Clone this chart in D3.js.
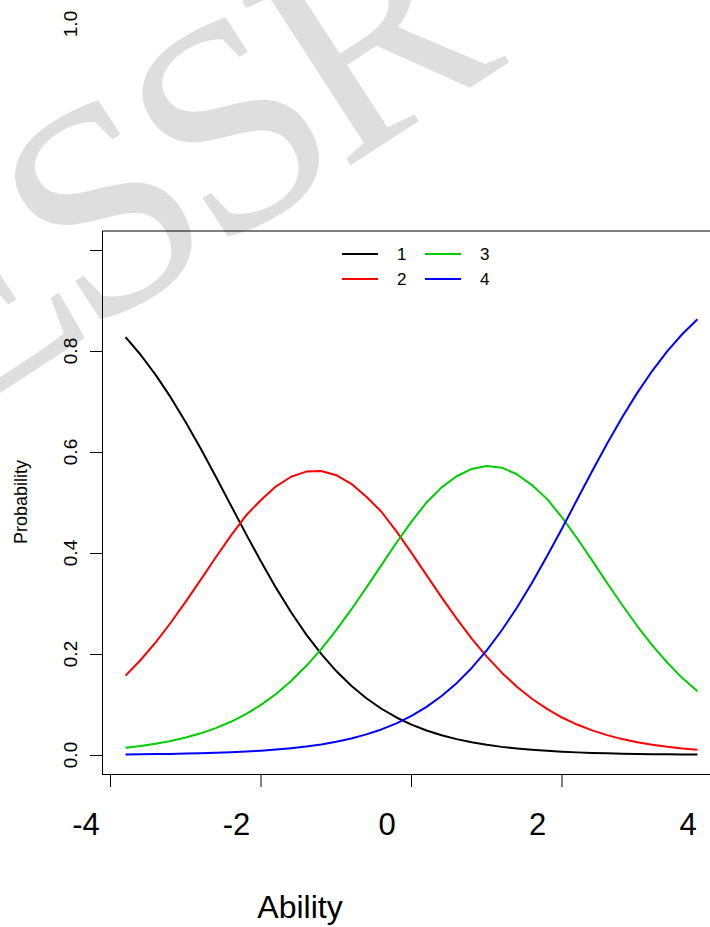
<!DOCTYPE html>
<html>
<head>
<meta charset="utf-8">
<script src="https://cdn.jsdelivr.net/npm/d3@7"></script>
<style>
  html, body { margin: 0; padding: 0; background: #fff; }
  svg { display: block; }
</style>
</head>
<body>
<svg id="chart" width="710" height="927"></svg>
<script>
// ---- data ----
const ability = [-3.8,-3.6,-3.4,-3.2,-3.0,-2.8,-2.6,-2.4,-2.2,-2.0,-1.8,-1.6,-1.4,-1.2,-1.0,-0.8,-0.6,-0.4,-0.2,0.0,0.2,0.4,0.6,0.8,1.0,1.2,1.4,1.6,1.8,2.0,2.2,2.4,2.6,2.8,3.0,3.2,3.4,3.6,3.8];
const cat1 = [0.8275,0.7926,0.7527,0.7081,0.6590,0.6063,0.5509,0.4943,0.4379,0.3830,0.3309,0.2826,0.2389,0.2001,0.1662,0.1370,0.1123,0.0916,0.0743,0.0601,0.0485,0.0390,0.0314,0.0252,0.0201,0.0161,0.0129,0.0103,0.0082,0.0066,0.0052,0.0042,0.0033,0.0027,0.0021,0.0017,0.0013,0.0011,0.0008];
const cat2 = [0.1571,0.1881,0.2232,0.2619,0.3036,0.3473,0.3915,0.4344,0.4742,0.5050,0.5320,0.5510,0.5612,0.5622,0.5540,0.5370,0.5115,0.4817,0.4427,0.4002,0.3561,0.3122,0.2700,0.2306,0.1949,0.1630,0.1352,0.1114,0.0912,0.0742,0.0603,0.0487,0.0393,0.0315,0.0254,0.0203,0.0163,0.0130,0.0105];
const cat3 = [0.0143,0.0179,0.0223,0.0278,0.0346,0.0429,0.0532,0.0658,0.0810,0.0992,0.1209,0.1465,0.1761,0.2097,0.2472,0.2882,0.3315,0.3761,0.4203,0.4622,0.5001,0.5300,0.5520,0.5665,0.5722,0.5690,0.5560,0.5345,0.5072,0.4705,0.4292,0.3853,0.3407,0.2970,0.2554,0.2172,0.1827,0.1523,0.1260];
const cat4 = [0.0011,0.0014,0.0018,0.0022,0.0028,0.0035,0.0044,0.0055,0.0069,0.0086,0.0108,0.0135,0.0168,0.0210,0.0263,0.0327,0.0408,0.0506,0.0627,0.0775,0.0953,0.1168,0.1423,0.1724,0.2073,0.2470,0.2916,0.3407,0.3934,0.4487,0.5053,0.5618,0.6167,0.6688,0.7171,0.7608,0.7997,0.8336,0.8627];
const seriesNames = ["1","2","3","4"];
const seriesColors = ["#000000","#ff0000","#00cd00","#0000ff"];
const xTicks = [-4,-2,0,2,4];
const xTickLabels = ["-4","-2","0","2","4"];
const yTicks = [0,0.2,0.4,0.6,0.8,1.0];
const yTickLabels = ["0.0","0.2","0.4","0.6","0.8","1.0"];
const xTitle = "Ability";
const yTitle = "Probability";
const watermark = "ESSR";

// ---- layout ----
const svg = d3.select("#chart");
const font = "Liberation Sans, Arial, Helvetica, sans-serif";
const box = {left: 102, top: 231, bottom: 774, right: 740};
const x = d3.scaleLinear().domain([-4, 4]).range([110.5, 712.5]);
const y = d3.scaleLinear().domain([0, 1]).range([755, 250]);

// watermark
svg.append("text")
  .attr("transform", "translate(-54,428) rotate(-33)")
  .attr("font-family", "Liberation Serif, Times New Roman, serif")
  .attr("font-size", 300)
  .attr("letter-spacing", -15)
  .attr("fill", "#dedede")
  .text(watermark);

// plot frame
svg.append("line").attr("x1", box.left).attr("x2", box.right).attr("y1", box.top).attr("y2", box.top)
  .attr("stroke", "#000").attr("stroke-width", 1);
svg.append("line").attr("x1", box.left + 0.5).attr("x2", box.left + 0.5).attr("y1", box.top).attr("y2", box.bottom + 0.5)
  .attr("stroke", "#000").attr("stroke-width", 1);
svg.append("line").attr("x1", box.left).attr("x2", box.right).attr("y1", box.bottom + 0.5).attr("y2", box.bottom + 0.5)
  .attr("stroke", "#000").attr("stroke-width", 1);

// x axis ticks
const xg = svg.append("g");
xg.selectAll("line.t").data(xTicks).join("line")
  .attr("x1", d => x(d)).attr("x2", d => x(d))
  .attr("y1", box.bottom).attr("y2", box.bottom + 13)
  .attr("stroke", "#000").attr("stroke-width", 1);
xg.selectAll("text").data(xTicks).join("text")
  .attr("x", d => x(d) - 24.5).attr("y", 835)
  .attr("text-anchor", "middle")
  .attr("font-family", font).attr("font-size", 31)
  .attr("fill", "#000")
  .text((d, i) => xTickLabels[i]);

// y axis ticks
const yg = svg.append("g");
yg.selectAll("line.t").data(yTicks).join("line")
  .attr("x1", 90).attr("x2", box.left)
  .attr("y1", d => y(d) + 0.5).attr("y2", d => y(d) + 0.5)
  .attr("stroke", "#000").attr("stroke-width", 1);
yg.selectAll("text").data(yTicks).join("text")
  .attr("transform", (d, i) => `translate(77,${i === yTicks.length - 1 ? 24 : y(d)}) rotate(-90)`)
  .attr("text-anchor", "middle")
  .attr("font-family", font).attr("font-size", 19)
  .attr("fill", "#000")
  .text((d, i) => yTickLabels[i]);

// titles
svg.append("text").attr("x", 300).attr("y", 918).attr("text-anchor", "middle")
  .attr("font-family", font).attr("font-size", 32).attr("fill", "#000").text(xTitle);
svg.append("text").attr("transform", "translate(27,502) rotate(-90)").attr("text-anchor", "middle")
  .attr("font-family", font).attr("font-size", 18).attr("fill", "#000").text(yTitle);

// curves
const series = [cat1, cat2, cat3, cat4];
const line = d3.line().x(d => x(d[0])).y(d => y(d[1]));
svg.append("g").selectAll("path").data(series).join("path")
  .attr("d", s => line(ability.map((a, i) => [a, s[i]])))
  .attr("fill", "none")
  .attr("stroke", (s, i) => seriesColors[i])
  .attr("stroke-width", 2)
  .attr("stroke-linejoin", "round");

// legend (2 columns x 2 rows, column-major like R)
const legend = svg.append("g");
const legPos = [{lx: 342, ty: 254}, {lx: 342, ty: 279}, {lx: 425, ty: 254}, {lx: 425, ty: 279}];
seriesNames.forEach((name, i) => {
  const p = legPos[i];
  legend.append("line").attr("x1", p.lx).attr("x2", p.lx + 36).attr("y1", p.ty).attr("y2", p.ty)
    .attr("stroke", seriesColors[i]).attr("stroke-width", 2);
  legend.append("text").attr("x", p.lx + 55).attr("y", p.ty + 6)
    .attr("font-family", font).attr("font-size", 17).attr("fill", "#000").text(name);
});
</script>
</body>
</html>
